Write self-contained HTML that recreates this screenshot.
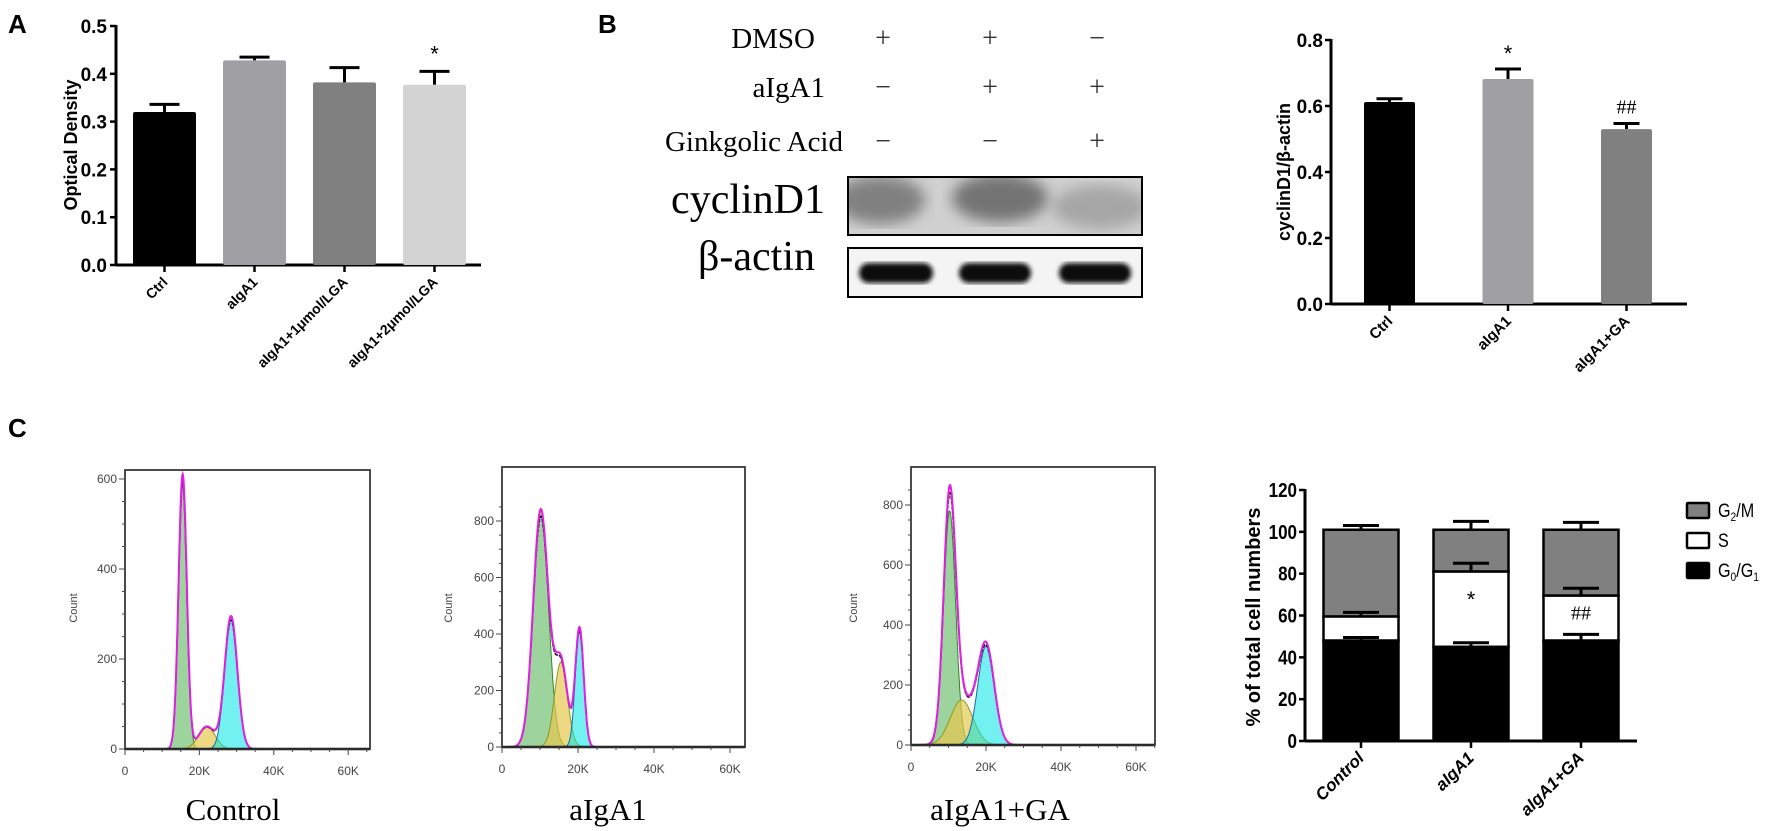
<!DOCTYPE html>
<html><head><meta charset="utf-8"><style>
html,body{margin:0;padding:0;background:#fff;}
svg{display:block;font-family:"Liberation Sans",Arial,sans-serif;}
.ser{font-family:"Liberation Serif","Times New Roman",serif;}
</style></head><body>
<svg id="fig" width="1772" height="831" viewBox="0 0 1772 831" xmlns="http://www.w3.org/2000/svg">
<g id="pa"></g>
<g id="pb"></g>
<g id="pbc"></g>
<g id="pc"></g>
</svg>
<script>
// ---- Panel A data
const aCats = ["Ctrl","aIgA1","aIgA1+1μmol/LGA","aIgA1+2μmol/LGA"];
const aVals = [0.32,0.428,0.382,0.377];
const aErrs = [0.016,0.007,0.031,0.028];
const aTicks = [0.0,0.1,0.2,0.3,0.4,0.5];
// ---- Panel B chart data
const bCats = ["Ctrl","aIgA1","aIgA1+GA"];
const bVals = [0.612,0.682,0.53];
const bErrs = [0.01,0.03,0.017];
const bTicks = [0.0,0.2,0.4,0.6,0.8];
// ---- Panel C stacked data
const cCats = ["Control","aIgA1","aIgA1+GA"];
const cG01 = [48,45,48];
const cS = [11.5,36,21.5];
const cG2M = [41.5,20,31.5];
const cErrG01 = [1.5,2,3];
const cErrS = [2,4,3.5];
const cErrG2M = [2,4,3.5];
const cTicks = [0,20,40,60,80,100,120];
// ---- Histogram component data (mean in K, peak count, sigma in K)
const hNames = ["Control","aIgA1","aIgA1+GA"];
const hG1 = [[15.5,610,1.1],[10.2,840,2.0],[10.3,780,1.6]];
const hSph = [[22,50,2.2],[15.5,300,1.7],[13.5,150,3.0]];
const hG2 = [[28.5,295,1.7],[20.4,420,1.1],[20,330,2.2]];
const hYTicks = [[0,200,400,600],[0,200,400,600,800],[0,200,400,600,800]];
const hXTicks = ["0","20K","40K","60K"];

const NS="http://www.w3.org/2000/svg";
function mk(parent,tag,attrs,text){const e=document.createElementNS(NS,tag);for(const k in attrs)e.setAttribute(k,attrs[k]);if(text!==undefined)e.textContent=text;parent.appendChild(e);return e;}

// ===== Panel A
(function(){
 const g=document.getElementById('pa');
 const t=mk(g,'text',{x:8,y:33,'font-size':26,'font-weight':'bold'},'A');
 
 
 const x0=116,y0=265,ppu=478,cx0=164.5,step=90,bw=63;
 const ys=v=>y0-v*ppu;
 const cols=["#000","#a0a0a4","#808080","#d3d3d3"];
 mk(g,'line',{x1:x0,y1:ys(0.5)-1,x2:x0,y2:y0+1,stroke:'#000','stroke-width':3});
 mk(g,'line',{x1:x0,y1:y0,x2:481,y2:y0,stroke:'#000','stroke-width':3});
 aTicks.forEach(v=>{
  mk(g,'line',{x1:x0-6,y1:ys(v),x2:x0,y2:ys(v),stroke:'#000','stroke-width':2.5});
  const l=mk(g,'text',{x:x0-9,y:ys(v)+7,'font-size':19,'font-weight':'bold','text-anchor':'end'},v.toFixed(1));
  
  
 });
 const yl=mk(g,'text',{x:0,y:0,'font-size':18,'font-weight':'bold','text-anchor':'middle',transform:`translate(77,145) rotate(-90)`},'Optical Density');
 
 
 aCats.forEach((c,i)=>{
  const cx=cx0+i*step;
  const top=ys(aVals[i]),et=ys(aVals[i]+aErrs[i]);
  mk(g,'line',{x1:cx,y1:top,x2:cx,y2:et,stroke:'#000','stroke-width':3});
  mk(g,'line',{x1:cx-15,y1:et,x2:cx+15,y2:et,stroke:'#000','stroke-width':3});
  const r=mk(g,'rect',{x:cx-bw/2,y:top,width:bw,height:y0-top,fill:cols[i],rx:2});
  
  
  mk(g,'line',{x1:cx,y1:y0,x2:cx,y2:y0+7,stroke:'#000','stroke-width':2.5});
  const l=mk(g,'text',{x:0,y:0,'font-size':14,'font-weight':'bold','text-anchor':'end',transform:`translate(${cx+4},${y0+18}) rotate(-45)`},c);
  
  
 });
 const s=mk(g,'text',{x:cx0+3*step,y:ys(0.405)-10,'font-size':22,'text-anchor':'middle'},'*');
 
 
})();

// ===== Panel B western
(function(){
 const g=document.getElementById('pb');
 const t=mk(g,'text',{x:598,y:33,'font-size':26,'font-weight':'bold'},'B');
 
 
 const rows=[["DMSO",48,815,["+","+","−"]],["aIgA1",97,825,["−","+","+"]],["Ginkgolic Acid",151,843,["−","−","+"]]];
 const colsX=[883,990,1097];
 rows.forEach(r=>{
  const l=mk(g,'text',{x:r[2],y:r[1],'font-size':29,'text-anchor':'end','class':'ser'},r[0]);
  
  
  r[3].forEach((s,i)=>{
   const e=mk(g,'text',{x:colsX[i],y:r[1]-1,'font-size':28,'text-anchor':'middle','class':'ser',fill:'#333'},s);
   
   
  });
 });
 const defs=mk(g,'defs',{});
 const f=mk(defs,'filter',{id:'blur6'});mk(f,'feGaussianBlur',{stdDeviation:7});
 const f2=mk(defs,'filter',{id:'blur2'});mk(f2,'feGaussianBlur',{stdDeviation:2.5});
 const cp=mk(defs,'clipPath',{id:'blotclip'});mk(cp,'rect',{x:848,y:177,width:294,height:58});
 const c1=mk(g,'rect',{x:848,y:177,width:294,height:58,fill:'#d0d0d0',stroke:'#000','stroke-width':2});
 
 
 const bg=mk(g,'g',{'clip-path':'url(#blotclip)'});
 [[880,200,45,24,'#666'],[1000,198,48,24,'#555'],[1100,207,48,22,'#999']].forEach(b=>mk(bg,'ellipse',{cx:b[0],cy:b[1],rx:b[2],ry:b[3],fill:b[4],filter:'url(#blur6)',opacity:0.75}));
 mk(g,'rect',{x:848,y:177,width:294,height:58,fill:'none',stroke:'#000','stroke-width':2});
 const c2=mk(g,'rect',{x:848,y:248,width:294,height:49,fill:'#f4f4f4',stroke:'#000','stroke-width':2});
 
 
 [[896,37],[995,36],[1095,36]].forEach(b=>mk(g,'rect',{x:b[0]-b[1],y:263,width:b[1]*2,height:20,rx:10,fill:'#111',filter:'url(#blur2)'}));
 const l1=mk(g,'text',{x:825,y:213,'font-size':42,'text-anchor':'end','class':'ser'},'cyclinD1');
 
 
 const l2=mk(g,'text',{x:815,y:270,'font-size':42,'text-anchor':'end','class':'ser'},'β-actin');
 
 
})();

// ===== Panel B chart
(function(){
 const g=document.getElementById('pbc');
 const x0=1331,y0=304,ppu=330,cx0=1389.5,step=118.5,bw=51;
 const ys=v=>y0-v*ppu;
 const cols=["#000","#a0a0a4","#808080"];
 mk(g,'line',{x1:x0,y1:ys(0.8)-1,x2:x0,y2:y0+1,stroke:'#000','stroke-width':3});
 mk(g,'line',{x1:x0,y1:y0,x2:1687,y2:y0,stroke:'#000','stroke-width':3});
 bTicks.forEach(v=>{
  mk(g,'line',{x1:x0-6,y1:ys(v),x2:x0,y2:ys(v),stroke:'#000','stroke-width':2.5});
  const l=mk(g,'text',{x:x0-8,y:ys(v)+7,'font-size':19,'font-weight':'bold','text-anchor':'end'},v.toFixed(1));
  
  
 });
 const yl=mk(g,'text',{x:0,y:0,'font-size':18,'font-weight':'bold','text-anchor':'middle',transform:`translate(1290,172) rotate(-90)`},'cyclinD1/β-actin');
 
 
 bCats.forEach((c,i)=>{
  const cx=cx0+i*step;
  const top=ys(bVals[i]),et=ys(bVals[i]+bErrs[i]);
  mk(g,'line',{x1:cx,y1:top,x2:cx,y2:et,stroke:'#000','stroke-width':3});
  mk(g,'line',{x1:cx-13,y1:et,x2:cx+13,y2:et,stroke:'#000','stroke-width':3});
  const r=mk(g,'rect',{x:cx-bw/2,y:top,width:bw,height:y0-top,fill:cols[i],rx:2});
  
  
  mk(g,'line',{x1:cx,y1:y0,x2:cx,y2:y0+7,stroke:'#000','stroke-width':2.5});
  const l=mk(g,'text',{x:0,y:0,'font-size':15,'font-weight':'bold','text-anchor':'end',transform:`translate(${cx+4},${y0+18}) rotate(-45)`},c);
  
  
 });
 const s1=mk(g,'text',{x:cx0+step,y:ys(bVals[1]+bErrs[1])-8,'font-size':22,'text-anchor':'middle'},'*');
 
 
 const s2=mk(g,'text',{x:cx0+2*step,y:ys(bVals[2]+bErrs[2])-10,'font-size':20,'text-anchor':'middle','class':'ser'},'##');
 
 
})();

// ===== Panel C
(function(){
 const g=document.getElementById('pc');
 const t=mk(g,'text',{x:8,y:437,'font-size':26,'font-weight':'bold'},'C');
 
 
 const frames=[[125,470,370,749,3.72,0.45,73,233],[502,467,745,747,3.8,0.2825,448,608],[911,467,1155,745,3.75,0.3,853,1000]];
 const gauss=(x,p)=>p[1]*Math.exp(-0.5*Math.pow((x-p[0])/p[2],2));
 hNames.forEach((nm,k)=>{
  const F=frames[k];
  const hg=mk(g,'g',{});
  
  
  const xs=v=>F[0]+v*F[4], ys=c=>F[3]-c*F[5];
  mk(hg,'rect',{x:F[0],y:F[1],width:F[2]-F[0],height:F[3]-F[1],fill:'#fff',stroke:'#333','stroke-width':1.5});
  const comp=[[hG1[k],'rgba(60,170,60,0.5)','#2a8a2a'],[hSph[k],'rgba(230,200,80,0.7)','#8a9a20'],[hG2[k],'rgba(0,230,230,0.55)','#1a6aa0']];
  const xmax=(F[2]-F[0])/F[4];
  comp.forEach(cp=>{
   let d=`M${xs(cp[0][0]-4*cp[0][2])},${ys(0)}`;
   for(let x=cp[0][0]-4*cp[0][2];x<=cp[0][0]+4*cp[0][2];x+=0.1)d+=` L${xs(x).toFixed(1)},${Math.max(F[1],ys(gauss(x,cp[0]))).toFixed(1)}`;
   d+=` L${xs(cp[0][0]+4*cp[0][2])},${ys(0)} Z`;
   const p=mk(hg,'path',{d:d,fill:cp[1],stroke:cp[2],'stroke-width':1});
   
   
  });
  let dt='',dm='';
  for(let x=0;x<=xmax;x+=0.1){
   const tot=gauss(x,hG1[k])+gauss(x,hSph[k])+gauss(x,hG2[k]);
   const yv=Math.max(F[1]+1,ys(tot));
   dm+=(x===0?'M':' L')+xs(x).toFixed(1)+','+yv.toFixed(1);
   dt+=(x===0?'M':' L')+xs(x).toFixed(1)+','+Math.max(F[1]+1,ys(tot*0.97)).toFixed(1);
  }
  const bl=mk(hg,'path',{d:dt,fill:'none',stroke:'#111','stroke-width':1.5,'stroke-dasharray':'4 1'});
  
  
  const ml=mk(hg,'path',{d:dm,fill:'none',stroke:'#e020e0','stroke-width':2});
  
  
  mk(hg,'line',{x1:F[0],y1:F[3],x2:F[2],y2:F[3],stroke:'#111','stroke-width':2.5});
  mk(hg,'rect',{x:F[0],y:F[1],width:F[2]-F[0],height:F[3]-F[1],fill:'none',stroke:'#333','stroke-width':1.5});
  const yt=hYTicks[k];
  for(let c=0;c<=yt[yt.length-1]+60;c+=50){
   if(ys(c)<F[1])break;
   mk(hg,'line',{x1:F[0]-(c%200===0?6:3),y1:ys(c),x2:F[0],y2:ys(c),stroke:'#444','stroke-width':1});
  }
  yt.forEach(c=>{
   const l=mk(hg,'text',{x:F[0]-8,y:ys(c)+4,'font-size':12,fill:'#444','text-anchor':'end'},String(c));
   
   
  });
  for(let x=0;x<=xmax;x+=5)mk(hg,'line',{x1:xs(x),y1:F[3],x2:xs(x),y2:F[3]+(x%20===0?6:3),stroke:'#444','stroke-width':1});
  hXTicks.forEach((s,i)=>{
   const l=mk(hg,'text',{x:xs(i*20),y:F[3]+26,'font-size':12,fill:'#444','text-anchor':'middle'},s);
   
   
  });
  const cl=mk(hg,'text',{x:0,y:0,'font-size':11,fill:'#444','text-anchor':'middle',transform:`translate(${F[6]+4},${608}) rotate(-90)`},'Count');
  
  
  const tl=mk(hg,'text',{x:F[7],y:820,'font-size':31,'text-anchor':'middle','class':'ser'},nm);
  
  
 });

 // stacked bar
 const sg=mk(g,'g',{});
 
 
 const x0=1305,y0=741,ppu=(741-490)/120,cx0=1361,step=110,bw=75;
 const ys=v=>y0-v*ppu;
 cCats.forEach((c,i)=>{
  const cx=cx0+i*step;
  const b1=cG01[i],b2=b1+cS[i],b3=b2+cG2M[i];
  mk(sg,'line',{x1:cx,y1:ys(b3),x2:cx,y2:ys(b3+cErrG2M[i]),stroke:'#000','stroke-width':3});
  mk(sg,'line',{x1:cx-18,y1:ys(b3+cErrG2M[i]),x2:cx+18,y2:ys(b3+cErrG2M[i]),stroke:'#000','stroke-width':3});
  const r3=mk(sg,'rect',{x:cx-bw/2,y:ys(b3),width:bw,height:ys(b2)-ys(b3),fill:'#808080',stroke:'#000','stroke-width':2.5});
  
  
  const r2=mk(sg,'rect',{x:cx-bw/2,y:ys(b2),width:bw,height:ys(b1)-ys(b2),fill:'#fff',stroke:'#000','stroke-width':2.5});
  
  
  const r1=mk(sg,'rect',{x:cx-bw/2,y:ys(b1),width:bw,height:y0-ys(b1),fill:'#000',stroke:'#000','stroke-width':2.5});
  
  
  [[b2,cErrS[i]],[b1,cErrG01[i]]].forEach(e=>{
   mk(sg,'line',{x1:cx,y1:ys(e[0]),x2:cx,y2:ys(e[0]+e[1]),stroke:'#000','stroke-width':3});
   mk(sg,'line',{x1:cx-18,y1:ys(e[0]+e[1]),x2:cx+18,y2:ys(e[0]+e[1]),stroke:'#000','stroke-width':3});
  });
  mk(sg,'line',{x1:cx,y1:y0,x2:cx,y2:y0+7,stroke:'#000','stroke-width':2.5});
  const l=mk(sg,'text',{x:0,y:0,'font-size':17,'font-weight':'bold','font-style':'italic','text-anchor':'end',transform:`translate(${cx+4},${y0+18}) rotate(-45)`},c);
  
  
 });
 mk(sg,'line',{x1:x0,y1:ys(120)-1,x2:x0,y2:y0+1,stroke:'#000','stroke-width':3});
 mk(sg,'line',{x1:x0,y1:y0,x2:1637,y2:y0,stroke:'#000','stroke-width':3});
 cTicks.forEach(v=>{
  mk(sg,'line',{x1:x0-6,y1:ys(v),x2:x0,y2:ys(v),stroke:'#000','stroke-width':2.5});
  const l=mk(sg,'text',{x:x0-8,y:ys(v)+7,'font-size':20,'font-weight':'bold','text-anchor':'end',transform:`translate(${(x0-8)*0.15},0) scale(0.85,1)`},String(v));
  
  
 });
 const yl=mk(sg,'text',{x:0,y:0,'font-size':20,'font-weight':'bold','text-anchor':'middle',transform:`translate(1260,617) rotate(-90)`},'% of total cell numbers');
 
 
 const st=mk(sg,'text',{x:cx0+step,y:ys(66)+4,'font-size':22,'text-anchor':'middle'},'*');
 
 
 const hs=mk(sg,'text',{x:cx0+2*step,y:ys(58),'font-size':20,'text-anchor':'middle','class':'ser'},'##');
 
 
 const lg=[['#808080',510,'G','2','/M'],['#fff',540,'S','',''],['#000',570,'G','0','/G']];
 lg.forEach((e,i)=>{
  const le=mk(sg,'g',{});
  
  
  mk(le,'rect',{x:1687,y:e[1]-7,width:22,height:15,fill:e[0],stroke:'#000','stroke-width':2.5,rx:1});
  const tx=mk(le,'text',{x:1718,y:e[1]+7,'font-size':19,transform:`translate(${1718*0.15},0) scale(0.85,1)`});
  tx.appendChild(document.createTextNode(e[2]));
  if(e[3]){mk(tx,'tspan',{'font-size':12,dy:4},e[3]);mk(tx,'tspan',{dy:-4},e[4]);}
  if(i===2){mk(tx,'tspan',{'font-size':12,dy:4},'1');}
 });
})();
</script>
</body></html>
